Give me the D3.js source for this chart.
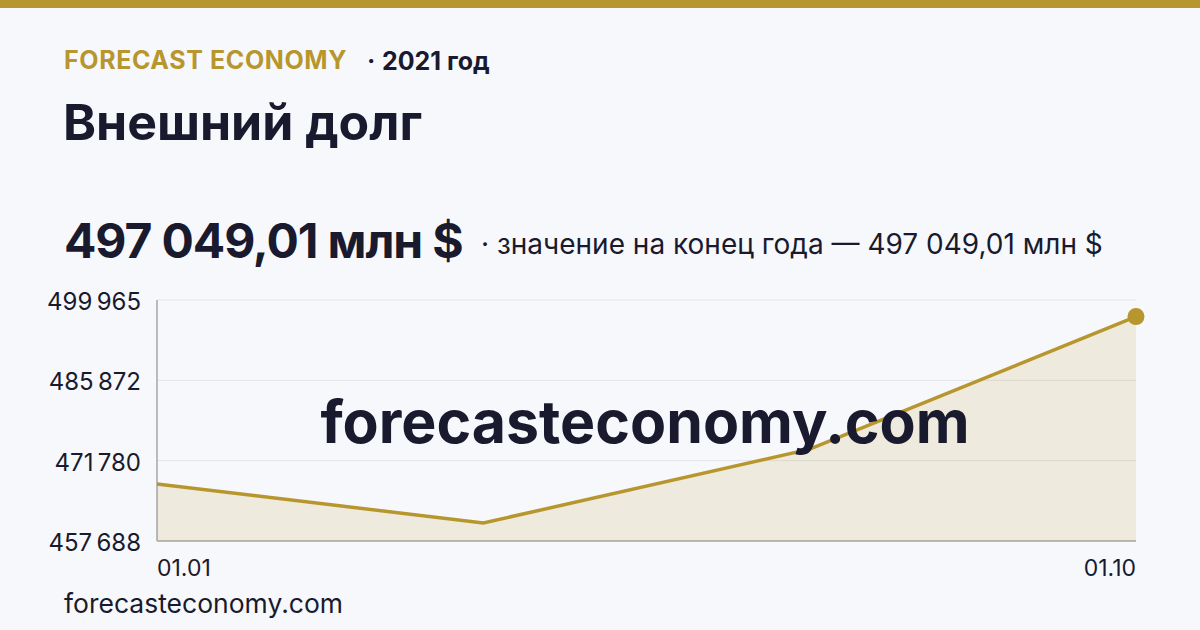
<!DOCTYPE html>
<html><head><meta charset="utf-8">
<script src="https://cdn.jsdelivr.net/npm/d3@7/dist/d3.min.js"></script>
<style>
html,body{margin:0;padding:0;background:#f7f8fc;}
svg{display:block;font-family:Inter,"Noto Sans",sans-serif;}
</style></head><body>
<svg id="c" width="1200" height="630"></svg>
<script>
const dates = ["01.01", "01.04", "01.07", "01.10"];
const values = [467700, 460850, 473800, 497049.01];
const yTicks = [457688, 471780, 485872, 499965];
const xTickLabels = ["01.01", "01.10"];

const svg = d3.select("#c");
const W = 1200, H = 630;
const gold = "#b8962e", ink = "#1a1a2e";
svg.append("rect").attr("width", W).attr("height", H).attr("fill", "#f7f8fc");
svg.append("rect").attr("width", W).attr("height", 8).attr("fill", gold);

const fmt = v => d3.format(",.0f")(v).replace(/,/g, "\u202f");

svg.append("text").attr("x", 64).attr("y", 69).attr("font-size", 25).attr("font-weight", 700)
  .attr("letter-spacing", 0.6).attr("fill", gold).text("FORECAST ECONOMY");
svg.append("text").attr("x", 367).attr("y", 70).attr("font-size", 25).attr("font-weight", 700)
  .attr("fill", ink).text("·");
svg.append("text").attr("x", 382).attr("y", 70).attr("font-size", 25).attr("font-weight", 700)
  .attr("fill", ink).text("2021 год");
svg.append("text").attr("x", 63).attr("y", 140).attr("font-size", 50).attr("font-weight", 700)
  .attr("fill", ink).text("Внешний долг");
svg.append("text").attr("x", 64).attr("y", 258).attr("font-size", 48).attr("font-weight", 700)
  .attr("fill", ink).attr("letter-spacing", -1.1).text("497 049,01 млн $");
svg.append("text").attr("x", 481).attr("y", 254).attr("font-size", 28)
  .attr("fill", ink).text("· значение на конец года — 497 049,01 млн $");

const m = {l: 157, r: 1136, t: 300, b: 541};
const x = d3.scalePoint().domain(dates).range([m.l, m.r]);
const y = d3.scaleLinear().domain([yTicks[0], yTicks[yTicks.length - 1]]).range([m.b, m.t]);

const g = svg.append("g");
g.selectAll("line.grid").data(yTicks).enter().append("line")
  .attr("x1", m.l).attr("x2", m.r).attr("y1", d => y(d)).attr("y2", d => y(d))
  .attr("stroke", "#e2e4ea").attr("stroke-width", 1);

g.append("line").attr("x1", m.l).attr("x2", m.l).attr("y1", m.t).attr("y2", m.b)
  .attr("stroke", "#b9b9be").attr("stroke-width", 2);
g.append("line").attr("x1", m.l).attr("x2", m.r).attr("y1", m.b).attr("y2", m.b)
  .attr("stroke", "#b9b9be").attr("stroke-width", 2);

g.selectAll("text.yt").data(yTicks).enter().append("text")
  .attr("x", 141).attr("y", d => y(d) + 10).attr("text-anchor", "end")
  .attr("font-size", 24).attr("fill", ink).text(d => fmt(d));

g.selectAll("text.xt").data(xTickLabels).enter().append("text")
  .attr("x", d => x(d)).attr("y", 576)
  .attr("text-anchor", (d, i) => i === 0 ? "start" : "end")
  .attr("font-size", 23).attr("fill", ink).text(d => d);

svg.append("text").attr("x", 645).attr("y", 443).attr("text-anchor", "middle")
  .attr("font-size", 59).attr("font-weight", 700).attr("fill", ink)
  .text("forecasteconomy.com");

const data = dates.map((d, i) => ({d, v: values[i]}));
g.append("path").datum(data)
  .attr("d", d3.area().x(p => x(p.d)).y0(m.b).y1(p => y(p.v)))
  .attr("fill", gold).attr("fill-opacity", 0.14);
g.append("path").datum(data)
  .attr("d", d3.line().x(p => x(p.d)).y(p => y(p.v)))
  .attr("fill", "none").attr("stroke", gold).attr("stroke-width", 3.5);
g.append("circle").attr("cx", x(dates[dates.length - 1])).attr("cy", y(values[values.length - 1]))
  .attr("r", 8.5).attr("fill", gold);

svg.append("text").attr("x", 64).attr("y", 613).attr("font-size", 26.5)
  .attr("fill", ink).text("forecasteconomy.com");
</script>
</body></html>
